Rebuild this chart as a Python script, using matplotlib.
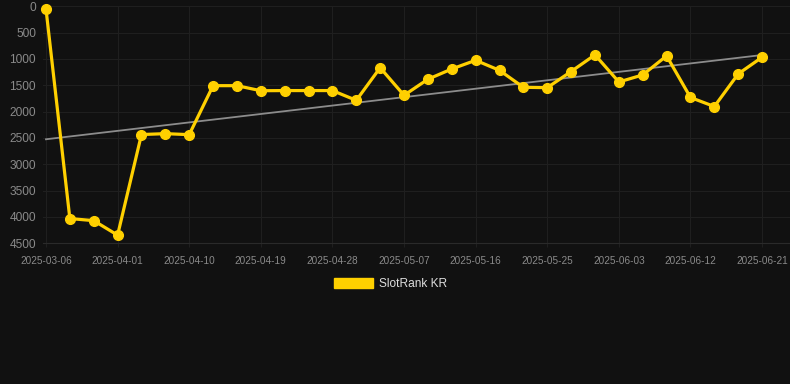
import numpy as np
import matplotlib
matplotlib.use('Agg')
import matplotlib.pyplot as plt
from matplotlib.patches import Patch

# SlotRank KR - rank over time (lower number = better rank)

dates = ['2025-03-06', '2025-03-26', '2025-03-29', '2025-04-01', '2025-04-04',
         '2025-04-07', '2025-04-10', '2025-04-13', '2025-04-16', '2025-04-19',
         '2025-04-22', '2025-04-25', '2025-04-28', '2025-05-01', '2025-05-04',
         '2025-05-07', '2025-05-10', '2025-05-13', '2025-05-16', '2025-05-19',
         '2025-05-22', '2025-05-25', '2025-05-28', '2025-05-31', '2025-06-03',
         '2025-06-06', '2025-06-09', '2025-06-12', '2025-06-15', '2025-06-18',
         '2025-06-21']
ranks = [50, 4030, 4070, 4345, 2435, 2418, 2437, 1507, 1507, 1603,
         1600, 1600, 1600, 1786, 1166, 1690, 1385, 1190, 1025, 1216,
         1538, 1545, 1238, 922, 1437, 1303, 941, 1731, 1903, 1284,
         967]
series_name = 'SlotRank KR'
y_ticks = [0, 500, 1000, 1500, 2000, 2500, 3000, 3500, 4000, 4500]

bg = '#111111'
yellow = '#ffd000'
grid_col = '#1f1f1f'
text_col = '#8a8a8a'

x = np.arange(len(ranks))
slope, intercept = np.polyfit(x, ranks, 1)

fig = plt.figure(figsize=(7.9, 3.84), dpi=100, facecolor=bg)
ax = fig.add_axes([0.0544, 0.3664, 1 - 0.0544, 0.9836 - 0.3664])
ax.set_facecolor(bg)

ax.plot(x, slope * x + intercept, color='#8c8c8c', linewidth=1.3, zorder=2)
ax.plot(x, ranks, color=yellow, linewidth=2.3, marker='o', markersize=7,
        markerfacecolor=yellow, markeredgecolor=yellow, zorder=3, clip_on=False)

ax.set_ylim(4500, 0)
ax.set_yticks(y_ticks)
ax.set_yticklabels([str(v) for v in y_ticks], fontsize=8.6, color=text_col,
                   family='Liberation Sans')
ax.set_xlim(-0.126, 31.17)
tick_idx = list(range(0, len(dates), 3))
ax.set_xticks(tick_idx)
ax.set_xticklabels([dates[i] for i in tick_idx], fontsize=7.2, color=text_col,
                   family='Liberation Sans')

ax.grid(True, color=grid_col, linewidth=0.8)
ax.set_axisbelow(True)
ax.tick_params(axis='y', length=0, pad=5)
ax.tick_params(axis='x', length=3, color=grid_col, pad=6)
for s in ['top', 'right', 'left']:
    ax.spines[s].set_visible(False)
ax.spines['bottom'].set_color('#2a2a2a')

handle = Patch(facecolor=yellow, edgecolor=yellow)
fig.legend([handle], [series_name], loc='center', bbox_to_anchor=(0.494, 0.26),
           frameon=False, handlelength=3.3, handleheight=0.9, handletextpad=0.5,
           prop={'family': 'Liberation Sans', 'size': 8.6}, labelcolor='#dddddd')

fig.savefig('out.png', dpi=100, facecolor=bg)
